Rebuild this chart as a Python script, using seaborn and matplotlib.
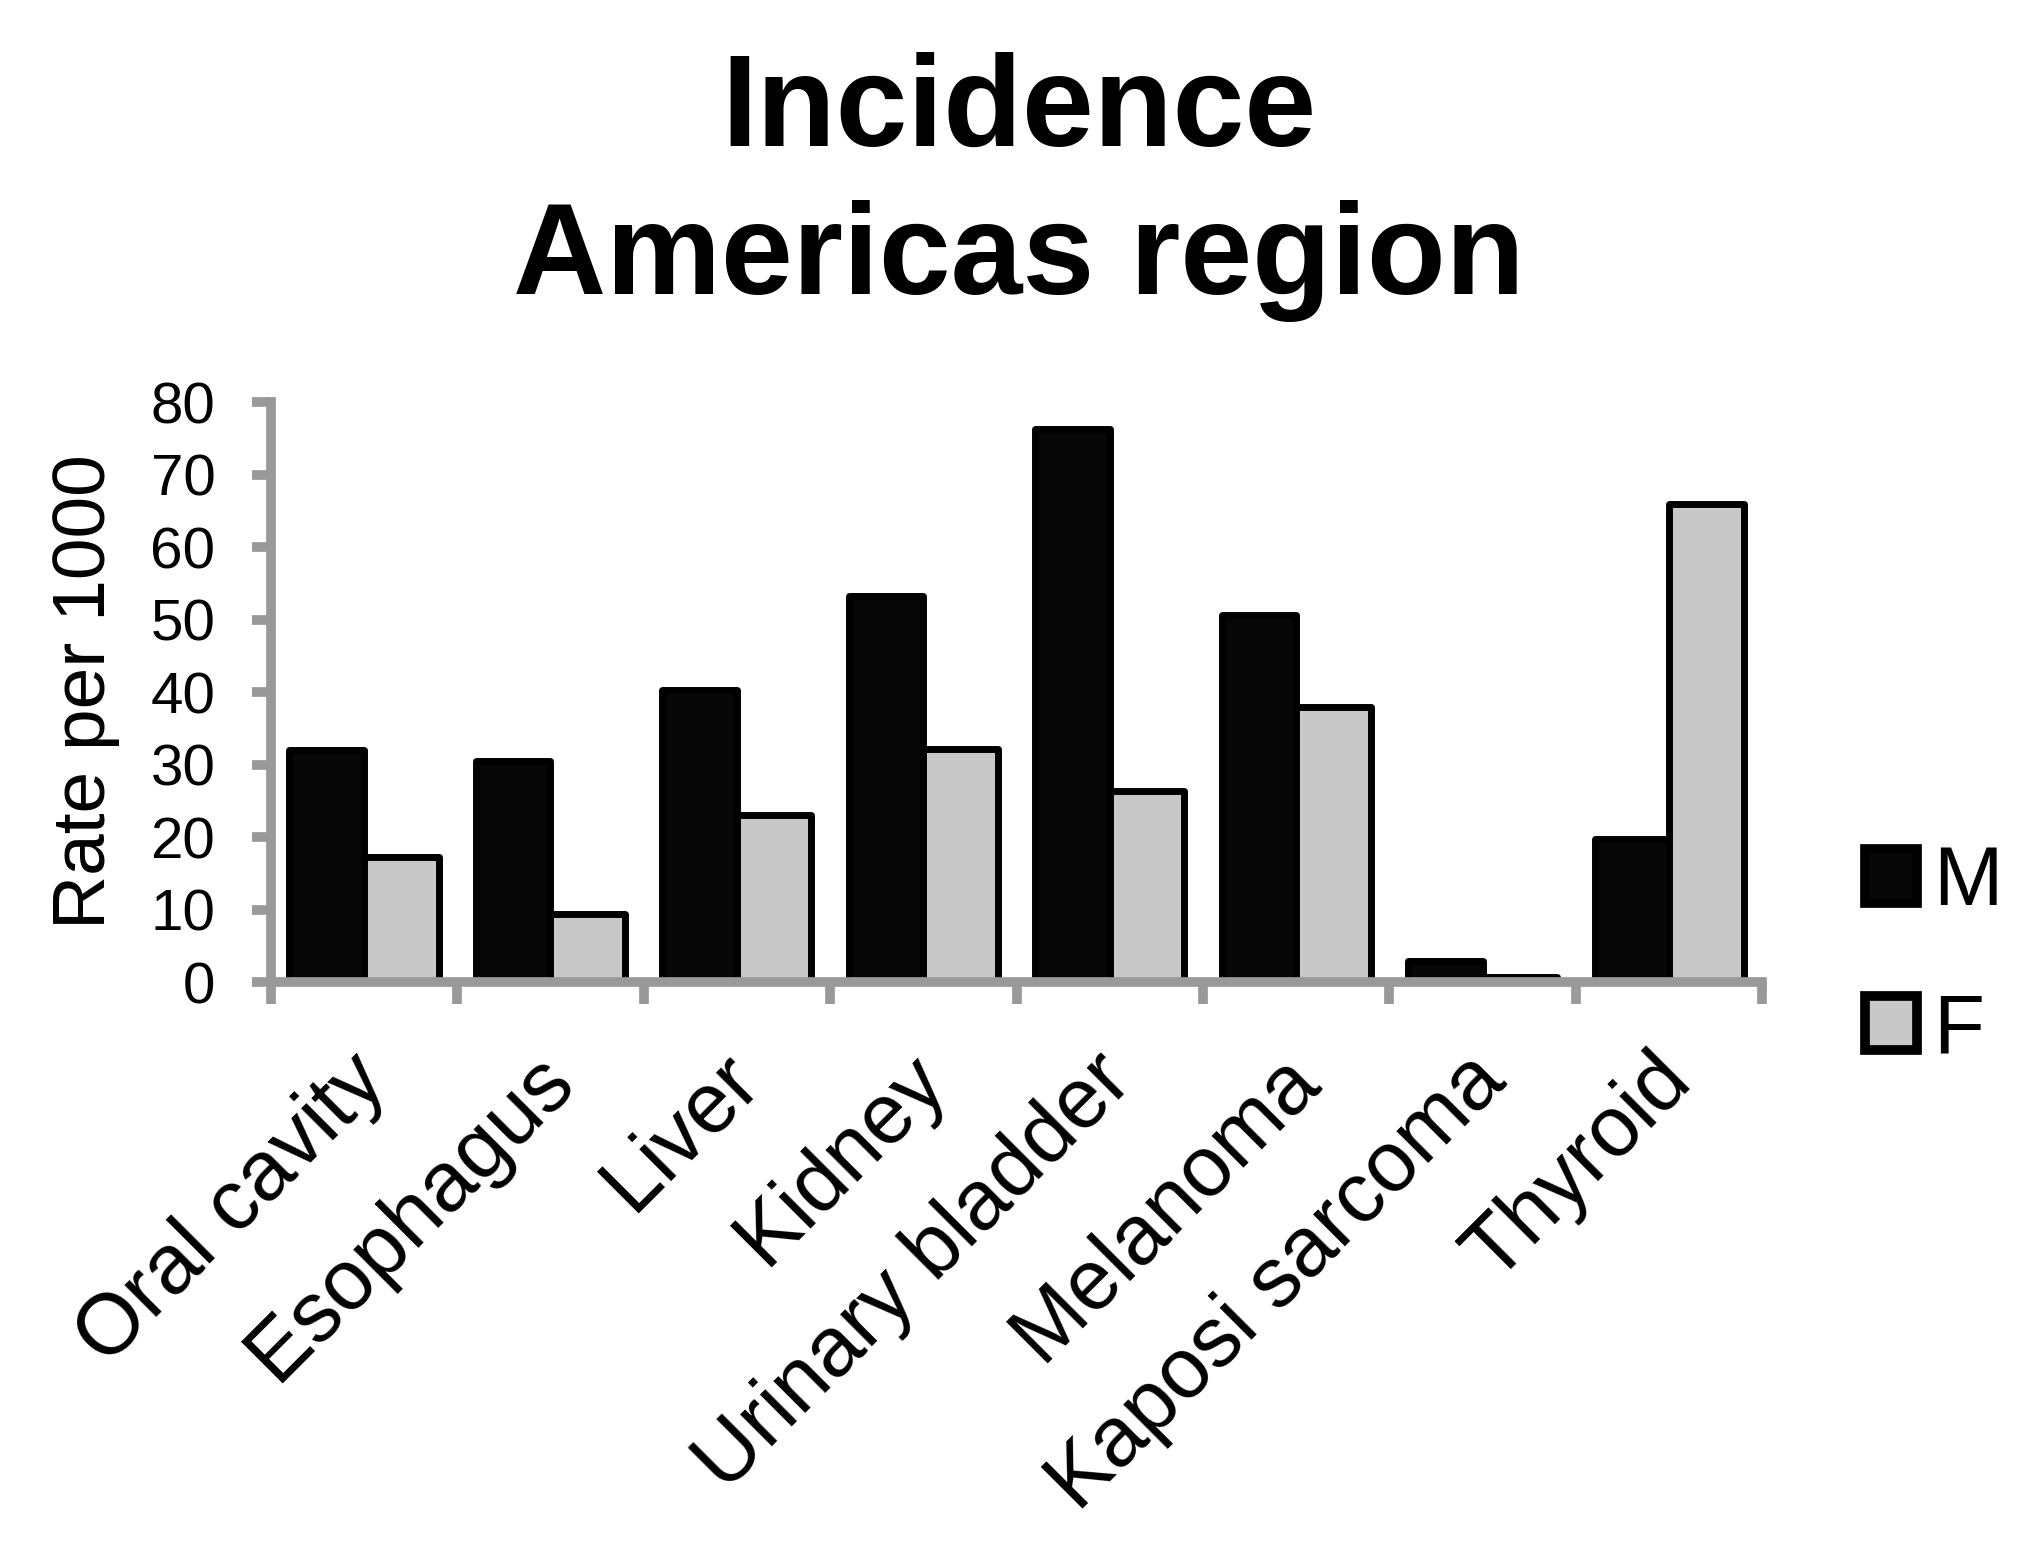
import matplotlib
matplotlib.use("Agg")
import matplotlib.pyplot as plt
from matplotlib.patches import Patch
from matplotlib.transforms import ScaledTranslation
import numpy as np
import pandas as pd
import seaborn as sns

# Incidence rates per 1000, Americas region
sites = ["Oral cavity", "Esophagus", "Liver", "Kidney", "Urinary bladder",
         "Melanoma", "Kaposi sarcoma", "Thyroid"]
male = [32.0, 30.5, 40.3, 53.2, 76.3, 50.6, 2.9, 19.7]
female = [17.3, 9.4, 23.0, 32.2, 26.3, 38.0, 0.7, 66.0]
sexes = ["M", "F"]
y_ticks = [0, 10, 20, 30, 40, 50, 60, 70, 80]

colors = {"M": "#070707", "F": "#c8c8c8"}
axis_grey = "#999999"

df = pd.DataFrame({
    "site": sites * 2,
    "sex": ["M"] * len(sites) + ["F"] * len(sites),
    "rate": male + female,
})

sns.set_theme(style="white")
plt.rcParams["font.family"] = ["Liberation Sans", "DejaVu Sans"]
plt.rcParams.update({"text.color": "black", "axes.labelcolor": "black",
                     "xtick.color": "black", "ytick.color": "black"})

fig = plt.figure(figsize=(20.21, 15.48), dpi=100)
ax = fig.add_axes([0.134, 0.3656, 0.738, 0.3747])

sns.barplot(data=df, x="site", y="rate", hue="sex", order=sites,
            hue_order=sexes, palette=colors, saturation=1,
            edgecolor="black", linewidth=5, width=0.8, ax=ax)
for p in ax.patches:
    p.set_joinstyle("round")

ax.set_ylim(0, 80)
ax.set_xlim(-0.5, len(sites) - 0.5)
ax.set_yticks(y_ticks)

for side in ("top", "right"):
    ax.spines[side].set_visible(False)
for side in ("left", "bottom"):
    ax.spines[side].set_color(axis_grey)
    ax.spines[side].set_linewidth(7)

ax.tick_params(axis="y", direction="out", length=14, width=7,
               color=axis_grey, labelcolor="black", labelsize=42, pad=26,
               left=True)
ax.set_xticks(np.arange(-0.5, len(sites), 1.0), minor=True)
ax.tick_params(axis="x", which="minor", direction="out", length=16,
               width=7, color=axis_grey, bottom=True)
ax.tick_params(axis="x", which="major", length=0, labelsize=61, pad=62,
               labelcolor="black")
shift = ScaledTranslation(10 / 100, 0, fig.dpi_scale_trans)
for lbl in ax.get_xticklabels():
    lbl.set_rotation(45)
    lbl.set_ha("right")
    lbl.set_va("center")
    lbl.set_rotation_mode("anchor")
    lbl.set_transform(lbl.get_transform() + shift)

ax.set_xlabel("")
ax.set_ylabel("Rate per 1000", fontsize=54, labelpad=22)

fig.text(0.504, 0.906, "Incidence", ha="center", va="baseline",
         fontsize=93, fontweight="bold")
fig.text(0.504, 0.810, "Americas region", ha="center", va="baseline",
         fontsize=93, fontweight="bold")

handles = [Patch(facecolor=colors[s], edgecolor="black", linewidth=7,
                 joinstyle="round") for s in sexes]
ax.legend(handles, sexes, loc="center left",
          bbox_to_anchor=(0.9228, 0.382), bbox_transform=fig.transFigure,
          frameon=False, fontsize=60, handlelength=0.62, handleheight=0.62,
          handletextpad=0.2, labelspacing=0.83, borderpad=0, borderaxespad=0)

fig.savefig("out.png", dpi=100)
